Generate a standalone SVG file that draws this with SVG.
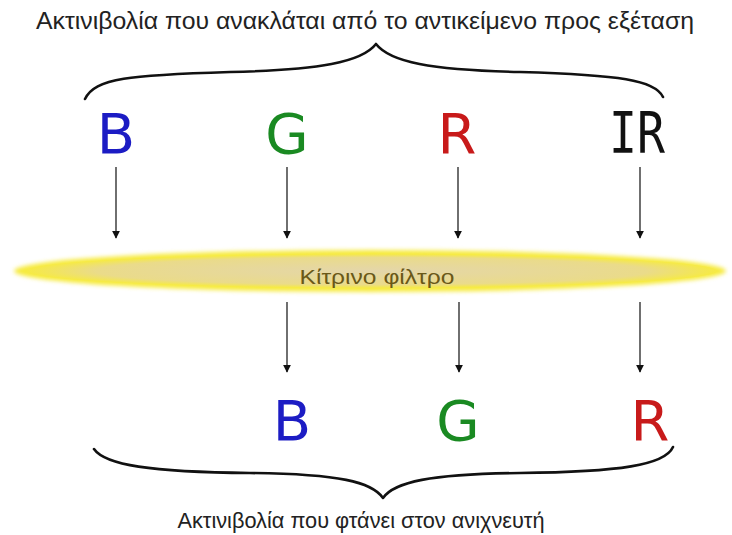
<svg xmlns="http://www.w3.org/2000/svg" width="732" height="535" viewBox="0 0 732 535">
<defs>
<style>
.cap{font-family:"Liberation Sans","Noto Sans",sans-serif;fill:#222;}
.big{font-family:"DejaVu Sans","Noto Sans",sans-serif;font-size:56px;text-anchor:middle;}
.brace{fill:none;stroke:#111;stroke-width:2.6;stroke-linecap:round;stroke-linejoin:round;}
.arr{stroke:#333;stroke-width:1.4;fill:none;marker-end:url(#ah);}
</style>
<marker id="ah" viewBox="0 0 10 10" refX="9" refY="5" markerWidth="8" markerHeight="8" markerUnits="userSpaceOnUse" orient="auto">
<path d="M0,0 L10,5 L0,10 z" fill="#111"/>
</marker>
<radialGradient id="fg" cx="0.5" cy="0.5" r="0.5">
<stop offset="0" stop-color="#e4d6aa"/>
<stop offset="0.8" stop-color="#eadb8a"/>
<stop offset="1" stop-color="#f6ea44"/>
</radialGradient>
<filter id="glow" x="-5%" y="-60%" width="110%" height="220%">
<feGaussianBlur stdDeviation="2"/>
</filter>
</defs>
<rect width="732" height="535" fill="#fff"/>
<g id="title-top">
<text class="cap" x="365" y="29" font-size="23" text-anchor="middle" textLength="658" lengthAdjust="spacingAndGlyphs">Ακτινιβολία που ανακλάται από το αντικείμενο προς εξέταση</text>
<path class="brace" d="M85,99 C95,78 130,75 230,72 C320,70 362,62 376,44 C390,62 430,70 520,72 C620,75 655,80 663,97"/>
</g>
<g id="top-B"><text class="big" x="116" y="153" fill="#1c1cc4">B</text></g>
<g id="top-G"><text class="big" x="287" y="153" fill="#1a8a22">G</text></g>
<g id="top-R"><text class="big" x="457" y="153" fill="#c81a1a">R</text></g>
<g id="top-IR"><text x="637" y="153" font-family="DejaVu Sans Mono,monospace" font-size="57" fill="#111" text-anchor="middle" textLength="56" lengthAdjust="spacingAndGlyphs">IR</text></g>
<g id="filter">
<ellipse cx="370" cy="271" rx="356" ry="21" fill="#f6ea3c" filter="url(#glow)"/>
<ellipse cx="372" cy="271" rx="345" ry="17" fill="url(#fg)"/>
<text x="377" y="284" font-family="Liberation Sans,Noto Sans,sans-serif" font-size="21" fill="#6a5818" text-anchor="middle" textLength="155" lengthAdjust="spacingAndGlyphs">Κίτρινο φίλτρο</text>
</g>
<g id="bottom-B"><text class="big" x="292" y="440" fill="#1c1cc4">B</text></g>
<g id="bottom-G"><text class="big" x="458" y="440" fill="#1a8a22">G</text></g>
<g id="bottom-R"><text class="big" x="650" y="440" fill="#c81a1a">R</text></g>
<g id="title-bottom">
<path class="brace" d="M94,449 C105,465 150,472 250,473 C340,474 372,482 383,498 C394,482 430,474 520,473 C620,472 665,465 673,447"/>
<text class="cap" x="361" y="528" font-size="22" text-anchor="middle" textLength="367" lengthAdjust="spacingAndGlyphs">Ακτινιβολία που φτάνει στον ανιχνευτή</text>
</g>
<g id="connectors">
<line class="arr" x1="116" y1="167" x2="116" y2="238"/>
<line class="arr" x1="287" y1="167" x2="287" y2="238"/>
<line class="arr" x1="458" y1="167" x2="458" y2="238"/>
<line class="arr" x1="640" y1="167" x2="640" y2="238"/>
<line class="arr" x1="287" y1="302" x2="287" y2="372"/>
<line class="arr" x1="459" y1="302" x2="459" y2="372"/>
<line class="arr" x1="640" y1="302" x2="640" y2="372"/>
</g>
</svg>
